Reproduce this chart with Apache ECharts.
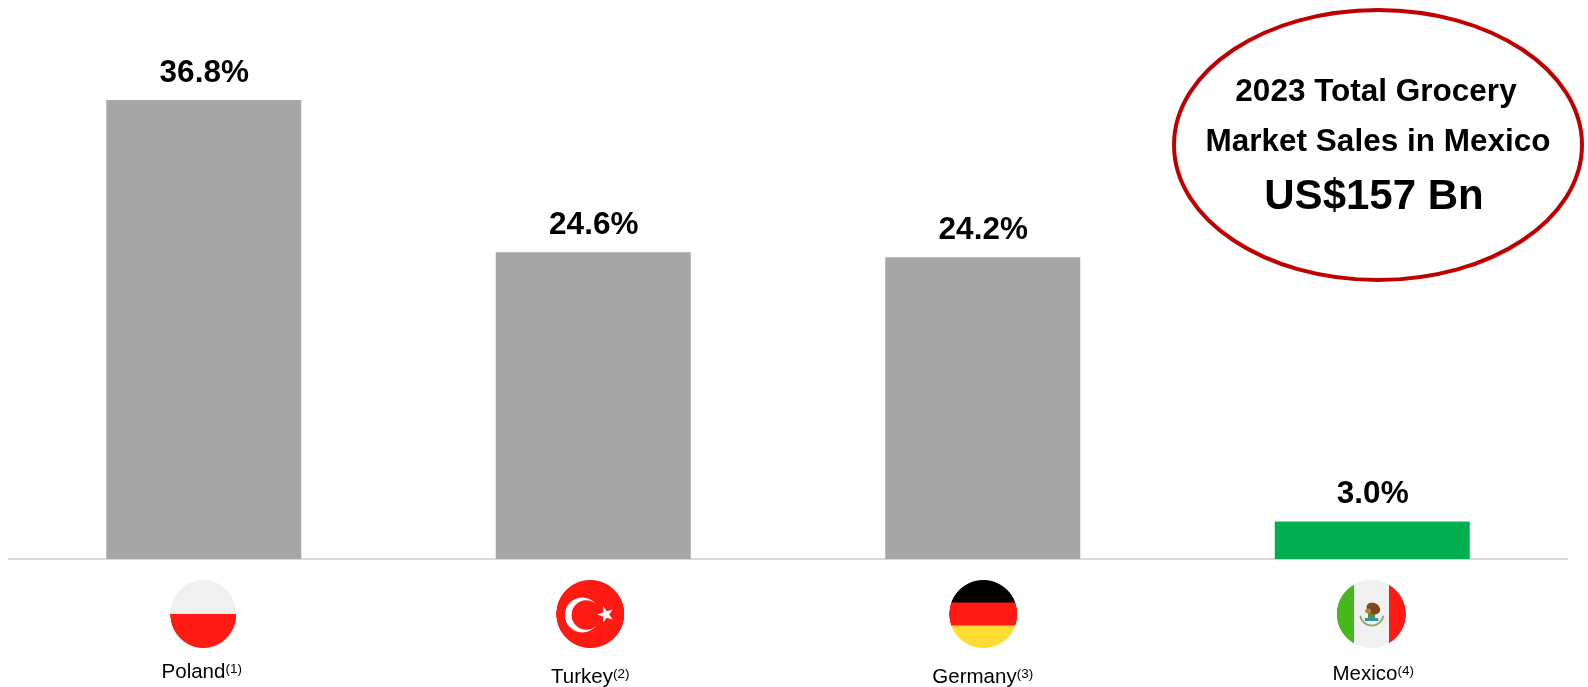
<!DOCTYPE html>
<html>
<head>
<meta charset="utf-8">
<style>html,body{margin:0;padding:0;background:#fff}#chart{width:1588px;height:687px}</style>
<script src="https://cdn.jsdelivr.net/npm/echarts@6/dist/echarts.min.js"></script>
</head>
<body>
<div id="chart"></div>
<script>
// Online grocery share by country
const countries = ['Poland', 'Turkey', 'Germany', 'Mexico'];
const footnotes = ['(1)', '(2)', '(3)', '(4)'];
const shares = [36.8, 24.6, 24.2, 3.0];
const barColors = ['#a6a6a6', '#a6a6a6', '#a6a6a6', '#00b050'];
const calloutLines = ['2023 Total Grocery', 'Market Sales in Mexico', 'US$157 Bn'];

const FONT = '"Liberation Sans", Arial, sans-serif';

// Nudges of each flag and country name relative to its category centre
const flagNudge = [-0.5, -3, 0.5, -1];
const flagWidth = [66, 68, 68, 69];
const nameNudgeX = [-2, -3, 0, 1];
const nameY = [671, 676, 676, 673];

function circleFlag(paint) {
  const size = 136;
  const c = document.createElement('canvas');
  c.width = c.height = size;
  const g = c.getContext('2d');
  g.beginPath();
  g.arc(size / 2, size / 2, size / 2, 0, Math.PI * 2);
  g.clip();
  paint(g, size);
  return c;
}

const flags = [
  circleFlag((g, s) => {
    g.fillStyle = '#f0f0f0'; g.fillRect(0, 0, s, s / 2);
    g.fillStyle = '#ff1a14'; g.fillRect(0, s / 2, s, s / 2);
  }),
  circleFlag((g, s) => {
    g.fillStyle = '#ff1a14'; g.fillRect(0, 0, s, s);
    g.fillStyle = '#ffffff';
    g.beginPath(); g.arc(52, 70, 35, 0, Math.PI * 2); g.fill();
    g.fillStyle = '#ff1a14';
    g.beginPath(); g.arc(60, 70, 29.5, 0, Math.PI * 2); g.fill();
    g.fillStyle = '#ffffff';
    g.beginPath();
    for (let i = 0; i < 10; i++) {
      const r = i % 2 ? 7 : 17;
      const a = -Math.PI / 2 + i * Math.PI / 5 - 0.314;
      g.lineTo(99 + r * Math.cos(a), 69 + r * Math.sin(a));
    }
    g.closePath(); g.fill();
  }),
  circleFlag((g, s) => {
    g.fillStyle = '#000000'; g.fillRect(0, 0, s, 45);
    g.fillStyle = '#ff1a14'; g.fillRect(0, 45, s, 46);
    g.fillStyle = '#ffdc32'; g.fillRect(0, 91, s, 45);
  }),
  circleFlag((g, s) => {
    g.fillStyle = '#46b81e'; g.fillRect(0, 0, 34, s);
    g.fillStyle = '#f0f0f0'; g.fillRect(34, 0, 69, s);
    g.fillStyle = '#ff1a14'; g.fillRect(103, 0, 33, s);
    // coat of arms: wreath, water, cactus and eagle
    g.strokeStyle = '#93a05a'; g.lineWidth = 3.5;
    g.beginPath(); g.arc(69, 68, 23, 0.05 * Math.PI, 0.95 * Math.PI); g.stroke();
    g.fillStyle = '#2f93a8'; g.fillRect(56, 76, 26, 6);
    g.fillStyle = '#5e8c3a'; g.fillRect(62, 66, 14, 10);
    g.fillStyle = '#7a4a1e';
    g.beginPath(); g.ellipse(72, 57, 14, 11, 0.5, 0, Math.PI * 2); g.fill();
    g.fillStyle = '#b8863b';
    g.beginPath(); g.ellipse(62, 62, 6, 5, 0, 0, Math.PI * 2); g.fill();
  })
];

const chart = echarts.init(document.getElementById('chart'), null, { renderer: 'canvas' });

chart.setOption({
  animation: false,
  backgroundColor: '#ffffff',
  grid: { left: 9, width: 1558, top: 100, height: 459 },
  xAxis: {
    type: 'category', data: countries, offset: 1,
    axisLine: { show: true, lineStyle: { color: '#d9d9d9', width: 2 } },
    axisTick: { show: false }, axisLabel: { show: false }
  },
  yAxis: { type: 'value', min: 0, max: 36.8, show: false, splitLine: { show: false } },
  series: [
    {
      type: 'bar', barWidth: 195,
      data: shares.map((v, i) => ({ value: v, itemStyle: { color: barColors[i] } })),
      label: {
        show: true, position: 'top', distance: 11, offset: [0.5, 0],
        formatter: p => p.value.toFixed(1) + '%',
        fontFamily: FONT, fontWeight: 'bold', fontSize: 31.5, color: '#000'
      }
    },
    {
      // flag disc and country name under each bar
      type: 'custom', clip: false, silent: true,
      data: countries.map((_, i) => [i, 0]),
      renderItem: (params, api) => {
        const i = api.value(0);
        const base = api.coord([i, 0]);
        return {
          type: 'group',
          children: [
            {
              type: 'image',
              style: {
                image: flags[i], x: base[0] + flagNudge[i] - flagWidth[i] / 2,
                y: 580, width: flagWidth[i], height: 68
              }
            },
            {
              type: 'text',
              style: {
                x: base[0] + nameNudgeX[i], y: nameY[i], align: 'center', verticalAlign: 'middle',
                rich: {
                  n: { fontFamily: FONT, fontSize: 20.5, color: '#000', verticalAlign: 'bottom', lineHeight: 24 },
                  s: { fontFamily: FONT, fontSize: 13.5, color: '#000', verticalAlign: 'top', lineHeight: 16, padding: [3, 0, 0, 0] }
                },
                text: '{n|' + countries[i] + '}{s|' + footnotes[i] + '}'
              }
            }
          ]
        };
      }
    }
  ],
  graphic: [
    {
      type: 'ellipse', z: 10,
      shape: { cx: 1378, cy: 145, rx: 204, ry: 135 },
      style: { fill: '#ffffff', stroke: '#c00000', lineWidth: 4 }
    },
    {
      type: 'text', z: 11, x: 1376, y: 92.5,
      style: { text: calloutLines[0], align: 'center', verticalAlign: 'middle', fontFamily: FONT, fontWeight: 'bold', fontSize: 31.5, fill: '#000' }
    },
    {
      type: 'text', z: 11, x: 1378, y: 142.5,
      style: { text: calloutLines[1], align: 'center', verticalAlign: 'middle', fontFamily: FONT, fontWeight: 'bold', fontSize: 31.5, fill: '#000' }
    },
    {
      type: 'text', z: 11, x: 1374, y: 197.5,
      style: { text: calloutLines[2], align: 'center', verticalAlign: 'middle', fontFamily: FONT, fontWeight: 'bold', fontSize: 42, fill: '#000' }
    }
  ]
});
</script>
</body>
</html>
